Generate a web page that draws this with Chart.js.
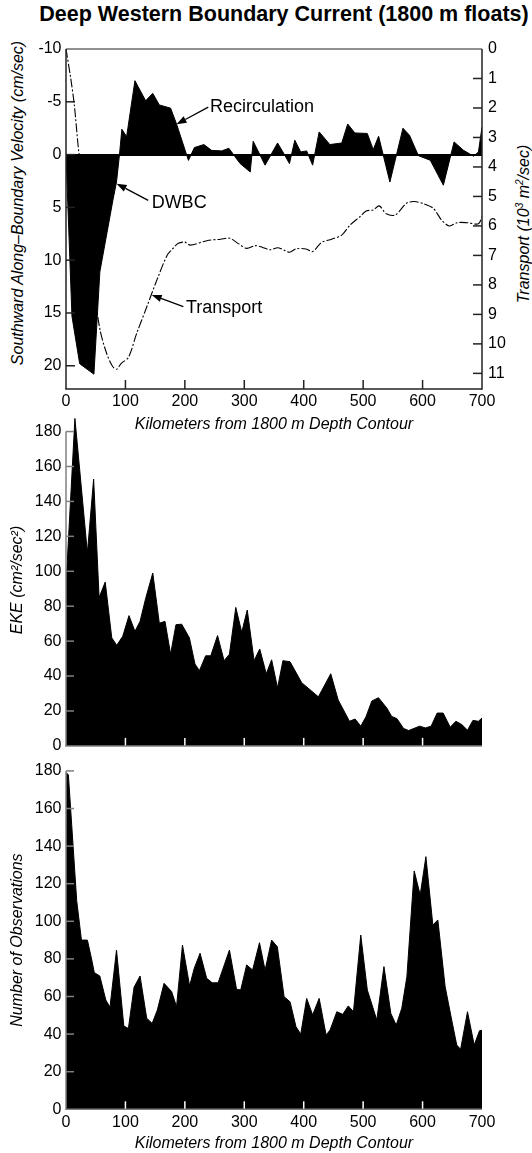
<!DOCTYPE html>
<html><head><meta charset="utf-8">
<script src="https://cdn.jsdelivr.net/npm/chart.js@4.4.1/dist/chart.umd.min.js"></script>
<style>
html,body{margin:0;padding:0;background:#fff;width:532px;height:1153px;overflow:hidden;font-family:"Liberation Sans",Arial,sans-serif;}
canvas{position:absolute;left:0;}
.ttl{position:absolute;white-space:nowrap;color:#000;}
.rot{transform:translate(-50%,-50%) rotate(-90deg);font-style:italic;font-size:16px;line-height:16px;}
sup{font-size:10px;vertical-align:6px;line-height:0;}
</style></head>
<body>
<div class="ttl" id="mainTitle" style="left:36px;width:496px;text-align:center;top:3px;font-weight:bold;font-size:21.5px;line-height:22px;">Deep Western Boundary Current (1800 m floats)</div>
<div class="ttl rot" style="left:17.5px;top:202.5px;">Southward Along–Boundary Velocity (cm/sec)</div>
<div class="ttl rot" style="left:524px;top:223.5px;">Transport (10<sup>3</sup> m<sup>2</sup>/sec)</div>
<canvas id="c1" width="532" height="440" style="top:0px"></canvas>
<canvas id="c2" width="532" height="360" style="top:400px"></canvas>
<canvas id="c3" width="532" height="398" style="top:755px"></canvas>
<script>
// ---------- tick labels ----------
const kmTicks = [0,100,200,300,400,500,600,700];
const velTicks = [-10,-5,0,5,10,15,20];
const transTicks = [0,1,2,3,4,5,6,7,8,9,10,11];
const ekeTicks = [0,20,40,60,80,100,120,140,160,180];
const obsTicks = [0,20,40,60,80,100,120,140,160,180];

// ---------- series ----------
const velKm  = [0,10,23,47,57,79,85,90,94,102,116,134,146,157,176,186,206,216,232,245,262,274,293,310,315,335,356,365,376,385,395,405,415,426,444,464,474,486,507,517,526,545,567,578,593,613,635,653,669,686,694,700];
const velVal = [0,15.3,19.8,20.8,11.1,4.3,2.6,0,-2.4,-1.7,-7.0,-5.1,-5.8,-4.7,-4.4,-2.9,0.55,-0.66,-0.95,-0.4,-0.35,-0.6,0.85,1.65,-1.26,1.0,-1.1,-0.25,0.85,-1.36,-0.25,-0.35,1.0,-2.15,-0.95,-1.1,-2.9,-2.05,-2.0,-0.47,-1.74,2.6,-2.5,-1.83,0.1,0.54,2.9,-1.2,-0.4,0.16,-0.25,-2.6];

const trnKm  = [0,8,14,21,28,35,41,47,57,68,78,85,93,105,119,136,153,170,178,189,200,209,237,260,276,290,304,318,330,343,357,376,387,404,415,430,447,464,478,495,505,517,527,539,554,573,586,602,618,632,645,658,675,694,700];
const trnVal = [0,1.0,1.9,3.4,4.5,5.8,7.1,8.1,9.5,10.3,10.75,10.86,10.66,10.46,9.64,8.74,7.83,7.0,6.81,6.59,6.55,6.65,6.5,6.45,6.42,6.6,6.76,6.67,6.72,6.81,6.74,6.89,6.78,6.78,6.87,6.56,6.45,6.31,5.97,5.68,5.49,5.46,5.32,5.59,5.63,5.23,5.17,5.25,5.4,5.8,6.0,5.89,5.89,5.93,5.68];

const ekeKm  = [0,15,36,46.5,55.7,66,77,85.4,95.5,106,116,124.6,134,146,157,166.6,176,185,194.7,207.6,217,224.5,235,243.6,255,266,275,285.7,295.7,305,316.5,326,337,346,356,365,377,396.6,424.7,445.5,458,477,486.5,496,505,514.6,525.8,540,548,557,568,576.6,595,604.8,614.4,624.5,634.6,646.5,656,666,675.6,684.7,694,700];
const ekeVal = [92,187.5,110.6,152.8,85,93.8,61.9,57.6,62.8,74.6,65.6,71.3,84.4,99,70.3,71.3,52.5,69.4,69.7,61.9,46.9,43.1,51.6,51.6,63.2,48.8,52.5,79.3,65.1,77.8,48.8,55.5,41.3,49.3,33.2,48.8,48.2,36.2,28.1,41.3,26.3,14.1,15.4,11.3,16.9,25.7,27.6,21.6,16.9,15.6,10,8.8,11.3,10.3,11.3,18.8,18.8,10.7,14.1,12.2,9,14.6,14.1,16];

const obsKm  = [0,4,18,26,36,43,47.6,56.9,67,74,85,97.3,105,114.5,124.6,135.8,145,153.7,165,177.8,186,196,208,215.8,225.6,236.7,246,256,275,287,294,304,314,325.6,335,346,355.6,367,377,387,395,405,415,426,437.7,444.4,455.7,465.7,475,483.7,496,507,523,535,546.6,555.6,565,573.6,585.9,596,605.6,617.3,625.7,638,649,657.5,664,675.6,686.9,695.8,700];
const obsVal = [179,178,111,90,90,80,72.7,70.9,58.1,54.3,84.7,44.3,43,64.9,70.9,48.4,45.7,52.8,67,62.6,54.6,87.4,65.6,75,83,69.7,67.3,67.3,84.7,63.8,63.5,76.8,74.1,88.6,74,90,86.5,59.9,57.2,43.9,40,59,50.2,59,39.5,42.2,51.9,50.5,55,51.9,92.7,63.5,47.5,75.9,51,44.8,53.7,70.5,126.8,114,134.4,98,100.7,65.2,47.5,34.2,31.9,51.9,34.2,41.8,42];

const pts = (xs, ys) => xs.map((x, i) => ({x, y: ys[i]}));

const FONT = "'Liberation Sans', Arial, sans-serif";
Chart.defaults.font.family = FONT;
Chart.defaults.color = '#000';

const tickFont = {size: 16};
const titleFont = {size: 16, style: 'italic'};
const xTitleText = 'Kilometers from 1800 m Depth Contour';
const setTicks = arr => (s => { s.ticks = arr.map(v => ({value: v})); });

// inward tick marks and axis lines
const framePlugin = {
  id: 'frame',
  afterDatasetsDraw(chart, args, o) {
    const ctx = chart.ctx, xs = chart.scales.x, ys = chart.scales[o.yId], a = chart.chartArea;
    const L = o.tickLen;
    ctx.save();
    const line = (x1, y1, x2, y2, c, w) => {
      ctx.strokeStyle = c; ctx.lineWidth = w; ctx.beginPath(); ctx.moveTo(x1, y1); ctx.lineTo(x2, y2); ctx.stroke();
    };
    const xl = xs.getPixelForValue(kmTicks[0]), xr = xs.getPixelForValue(kmTicks[kmTicks.length - 1]);
    let yb, yt;
    if (o.box) { yb = a.bottom; yt = a.top; }
    else { yb = ys.getPixelForValue(o.leftFrom); yt = ys.getPixelForValue(o.leftTo); }
    o.xTicks.forEach(v => { const p = xs.getPixelForValue(v); line(p, yb, p, yb - L, o.xTickColor, 1.5); });
    o.yTicks.forEach(v => { const p = ys.getPixelForValue(v); line(xl, p, xl + L, p, o.yTickColor, 1.5); });
    if (o.y2Id) {
      const y2 = chart.scales[o.y2Id];
      o.y2Ticks.forEach(v => { const p = y2.getPixelForValue(v); line(xr, p, xr - L, p, o.yTickColor, 1.5); });
    }
    line(xl - 0.75, yb, xr, yb, o.axisColor, 1.5);
    line(xl, yb, xl, yt, o.axisColor, 1.5);
    if (o.box) {
      line(xl, yt, xr, yt, o.axisColor, 1.2);
      line(xr, yb + 0.75, xr, yt, o.axisColor, 1.5);
    }
    ctx.restore();
  }
};

// text labels with arrows, anchored to data coordinates
const notePlugin = {
  id: 'notes',
  afterDatasetsDraw(chart, args, o) {
    if (!o.items) return;
    const ctx = chart.ctx, xs = chart.scales.x;
    ctx.save();
    o.items.forEach(n => {
      const ys = chart.scales[n.yId];
      const tx = xs.getPixelForValue(n.text_at[0]), ty = ys.getPixelForValue(n.text_at[1]);
      const fx = xs.getPixelForValue(n.from[0]), fy = ys.getPixelForValue(n.from[1]);
      const px = xs.getPixelForValue(n.tip[0]), py = ys.getPixelForValue(n.tip[1]);
      ctx.fillStyle = '#000'; ctx.strokeStyle = '#000';
      ctx.font = '18px ' + FONT; ctx.textAlign = 'left'; ctx.textBaseline = 'middle';
      ctx.fillText(n.text, tx, ty);
      const ang = Math.atan2(py - fy, px - fx), hl = 10, hw = 3.6;
      const bx = px - hl * Math.cos(ang), by = py - hl * Math.sin(ang);
      ctx.lineWidth = 1.3;
      ctx.beginPath(); ctx.moveTo(fx, fy); ctx.lineTo(bx, by); ctx.stroke();
      ctx.beginPath();
      ctx.moveTo(px, py);
      ctx.lineTo(bx + hw * Math.sin(ang), by - hw * Math.cos(ang));
      ctx.lineTo(bx - hw * Math.sin(ang), by + hw * Math.cos(ang));
      ctx.closePath(); ctx.fill();
    });
    ctx.restore();
  }
};

const base = {
  responsive: false, animation: false, events: [],
  plugins: {legend: {display: false}, tooltip: {enabled: false}, title: {display: false}}
};

// ---------- top panel ----------
new Chart(document.getElementById('c1'), {
  type: 'line',
  data: {datasets: [
    {label: 'Velocity', data: pts(velKm, velVal), yAxisID: 'y', fill: 'origin', backgroundColor: '#000',
     borderColor: '#000', borderWidth: 1, pointRadius: 0, tension: 0},
    {label: 'Transport', data: pts(trnKm, trnVal), yAxisID: 'y2', fill: false, borderColor: '#000',
     borderWidth: 1.1, borderDash: [9, 2, 2, 2], pointRadius: 0, tension: 0.3}
  ]},
  options: Object.assign({}, base, {
    layout: {padding: {top: 49, left: 0, right: 0, bottom: 0}},
    plugins: Object.assign({}, base.plugins, {
      frame: {box: true, yId: 'y', y2Id: 'y2', tickLen: 9, axisColor: '#222', xTickColor: '#222', yTickColor: '#222',
              xTicks: kmTicks.slice(1, -1), yTicks: velTicks.slice(1), y2Ticks: transTicks.slice(1)},
      notes: {items: [
        {text: 'Recirculation', yId: 'y', text_at: [242.3, -4.5], from: [239.4, -4.5], tip: [186, -2.87]},
        {text: 'DWBC', yId: 'y', text_at: [144.1, 4.62], from: [138.3, 4.33], tip: [85.2, 2.75]},
        {text: 'Transport', yId: 'y2', text_at: [201.9, 8.79], from: [197.4, 8.74], tip: [144.2, 8.34]}
      ]}
    }),
    scales: {
      x: {type: 'linear', min: 0, max: 700, afterBuildTicks: setTicks(kmTicks),
          ticks: {font: tickFont, padding: 3, maxRotation: 0, autoSkip: false},
          grid: {display: false, drawTicks: false}, border: {display: false},
          title: {display: true, text: xTitleText, font: titleFont, padding: {top: 0, bottom: 6}},
          afterFit: s => { s.height = 51; }},
      y: {type: 'linear', position: 'left', reverse: true, min: -10, max: 22.2, afterBuildTicks: setTicks(velTicks),
          ticks: {font: tickFont, padding: 4.5},
          grid: {drawTicks: false, lineWidth: 2, color: c => (c.tick && c.tick.value === 0) ? '#000' : 'rgba(0,0,0,0)'},
          border: {display: false},
          afterFit: s => { s.width = 66; }},
      y2: {type: 'linear', position: 'right', reverse: true, min: 0, max: 11.53, afterBuildTicks: setTicks(transTicks),
          ticks: {font: tickFont, padding: 6},
          grid: {display: false, drawTicks: false}, border: {display: false},
          afterFit: s => { s.width = 50; }}
    }
  }),
  plugins: [framePlugin, notePlugin]
});

// ---------- middle panel (EKE) ----------
new Chart(document.getElementById('c2'), {
  type: 'line',
  data: {datasets: [
    {label: 'EKE', data: pts(ekeKm, ekeVal), fill: 'origin', backgroundColor: '#000', borderColor: '#000',
     borderWidth: 1, pointRadius: 0, tension: 0}
  ]},
  options: Object.assign({}, base, {
    layout: {padding: {top: 14, left: 0, right: 50, bottom: 8.3}},
    plugins: Object.assign({}, base.plugins, {
      frame: {box: false, yId: 'y', leftFrom: 0, leftTo: 180, tickLen: 8, axisColor: '#808080',
              xTickColor: '#fff', yTickColor: '#808080', xTicks: kmTicks.slice(1, -1), yTicks: ekeTicks.slice(1)}
    }),
    scales: {
      x: {type: 'linear', min: 0, max: 700, display: false},
      y: {type: 'linear', min: 0, max: 190, afterBuildTicks: setTicks(ekeTicks),
          ticks: {font: tickFont, padding: 4.5},
          grid: {display: false, drawTicks: false}, border: {display: false},
          title: {display: true, text: 'EKE (cm²/sec²)', font: titleFont, padding: {top: 8, bottom: 0}},
          afterFit: s => { s.width = 66; }}
    }
  }),
  plugins: [framePlugin]
});

// ---------- bottom panel (Number of Observations) ----------
new Chart(document.getElementById('c3'), {
  type: 'line',
  data: {datasets: [
    {label: 'Observations', data: pts(obsKm, obsVal), fill: 'origin', backgroundColor: '#000', borderColor: '#000',
     borderWidth: 1, pointRadius: 0, tension: 0}
  ]},
  options: Object.assign({}, base, {
    layout: {padding: {top: 15.9, left: 0, right: 50, bottom: 0}},
    plugins: Object.assign({}, base.plugins, {
      frame: {box: false, yId: 'y', leftFrom: 0, leftTo: 180, tickLen: 8, axisColor: '#808080',
              xTickColor: '#fff', yTickColor: '#808080', xTicks: kmTicks.slice(1, -1), yTicks: obsTicks.slice(1)}
    }),
    scales: {
      x: {type: 'linear', min: 0, max: 700, afterBuildTicks: setTicks(kmTicks),
          ticks: {font: tickFont, padding: 4, maxRotation: 0, autoSkip: false},
          grid: {display: false, drawTicks: false}, border: {display: false},
          title: {display: true, text: xTitleText, font: titleFont, padding: {top: 0, bottom: 0}},
          afterFit: s => { s.height = 43.7; }},
      y: {type: 'linear', min: 0, max: 180, afterBuildTicks: setTicks(obsTicks),
          ticks: {font: tickFont, padding: 4.5},
          grid: {display: false, drawTicks: false}, border: {display: false},
          title: {display: true, text: 'Number of Observations', font: titleFont, padding: {top: 8, bottom: 0}},
          afterFit: s => { s.width = 66; }}
    }
  }),
  plugins: [framePlugin]
});
</script>
</body></html>
